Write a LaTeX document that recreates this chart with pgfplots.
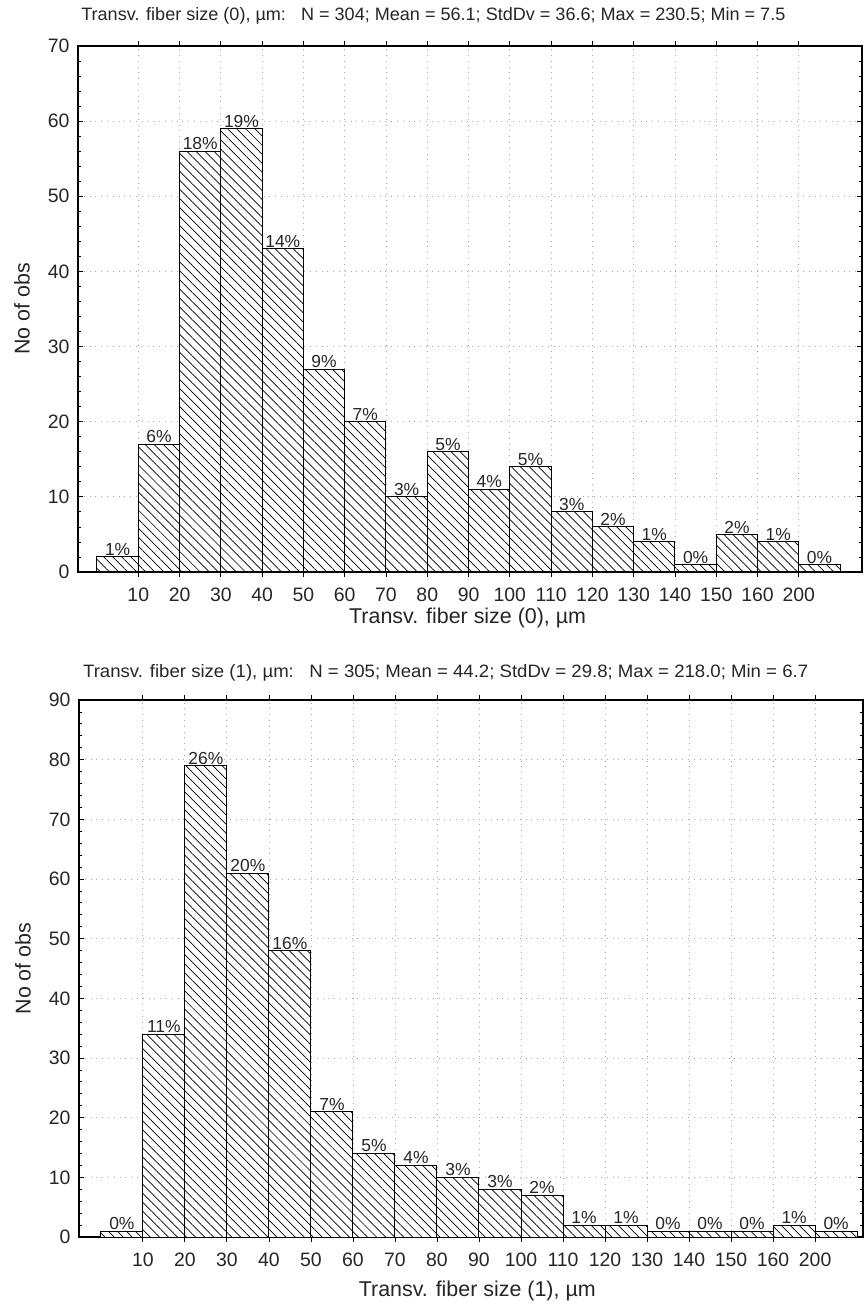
\documentclass[border=0pt]{standalone}
\usepackage{fontspec}
\setmainfont{Liberation Sans}
\usepackage{graphicx}
\usepackage{pgfplots}
\pgfplotsset{compat=1.18}
\usepackage{pgfplotstable}
\usetikzlibrary{patterns.meta}

\pgfplotstableread{
x y p
0.5 2 1
1.5 17 6
2.5 56 18
3.5 59 19
4.5 43 14
5.5 27 9
6.5 20 7
7.5 10 3
8.5 16 5
9.5 11 4
10.5 14 5
11.5 8 3
12.5 6 2
13.5 4 1
14.5 1 0
15.5 5 2
16.5 4 1
17.5 1 0
}\topdata

\pgfplotstableread{
x y p
0.5 1 0
1.5 34 11
2.5 79 26
3.5 61 20
4.5 48 16
5.5 21 7
6.5 14 5
7.5 12 4
8.5 10 3
9.5 8 3
10.5 7 2
11.5 2 1
12.5 2 1
13.5 1 0
14.5 1 0
15.5 1 0
16.5 2 1
17.5 1 0
}\botdata

\pgfplotsset{
  histo/.style={
    scale only axis, width=784bp, anchor=south west,
    ymin=0,
    xtick={1,...,17},
    xticklabels={10,20,30,40,50,60,70,80,90,100,110,120,130,140,150,160,200},
    minor y tick num=4,
    tick align=inside,
    major tick length=5bp, minor tick length=3bp,
    every tick/.style={black, line width=0.8bp},
    axis line style={black, line width=1.4bp},
    grid=major,
    major grid style={gray!70, line width=0.8bp, dash pattern=on 0.8bp off 5bp},
    /pgf/number format/assume math mode=true,
    tick label style={font=\fontsize{19.5}{22}\selectfont, text=black!85},
    yticklabel style={xshift=-5bp},
    xticklabel style={yshift=-7bp},
    label style={font=\fontsize{21.5}{24}\selectfont, text=black!85},
    ylabel={No of obs},
    ylabel style={at={(axis description cs:-0.0714,0.5)}, anchor=center},
    ybar, bar width=1, bar shift=0,
    point meta=explicit symbolic,
    nodes near coords={\pgfplotspointmeta\%},
    every node near coord/.style={font=\fontsize{17.5}{20}\selectfont, anchor=south, inner sep=0.8bp, text=black!85},
  },
  every axis title/.style={font=\fontsize{18}{20}\selectfont, anchor=base west, text=black!85, inner sep=0pt},
  histbar/.style={draw=black, line width=1bp, fill=white,
    postaction={pattern={Lines[angle=-45,distance=6.4bp,line width=0.7bp]}}},
}

\begin{document}
\begin{tikzpicture}
\useasboundingbox (0,0) rectangle (865bp,1304bp);

\begin{axis}[histo,
  height=526bp, at={(78bp,732bp)},
  xmin=-0.46, xmax=18.53, ymax=70,
  ytick={0,10,...,70},
  xlabel={Transv. fiber size (0), µm},
  xlabel style={at={(axis description cs:0.497,-0.0876)}, anchor=center},
  title={\resizebox{704bp}{\height}{Transv. fiber size (0), µm:\ \ \ N = 304; Mean = 56.1; StdDv = 36.6; Max = 230.5; Min = 7.5}},
  title style={at={(axis description cs:0.004,1.0494)}},
]
\addplot[histbar] table[x=x, y=y, meta=p] {\topdata};
\end{axis}

\begin{axis}[histo,
  height=537bp, at={(79bp,67bp)},
  xmin=-0.52, xmax=18.14, ymax=90,
  ytick={0,10,...,90},
  xlabel={Transv. fiber size (1), µm},
  xlabel style={at={(axis description cs:0.508,-0.1006)}, anchor=center},
  title={\resizebox{725bp}{\height}{Transv. fiber size (1), µm:\ \ \ N = 305; Mean = 44.2; StdDv = 29.8; Max = 218.0; Min = 6.7}},
  title style={at={(axis description cs:0.005,1.041)}},
]
\addplot[histbar] table[x=x, y=y, meta=p] {\botdata};
\end{axis}
\end{tikzpicture}
\end{document}
